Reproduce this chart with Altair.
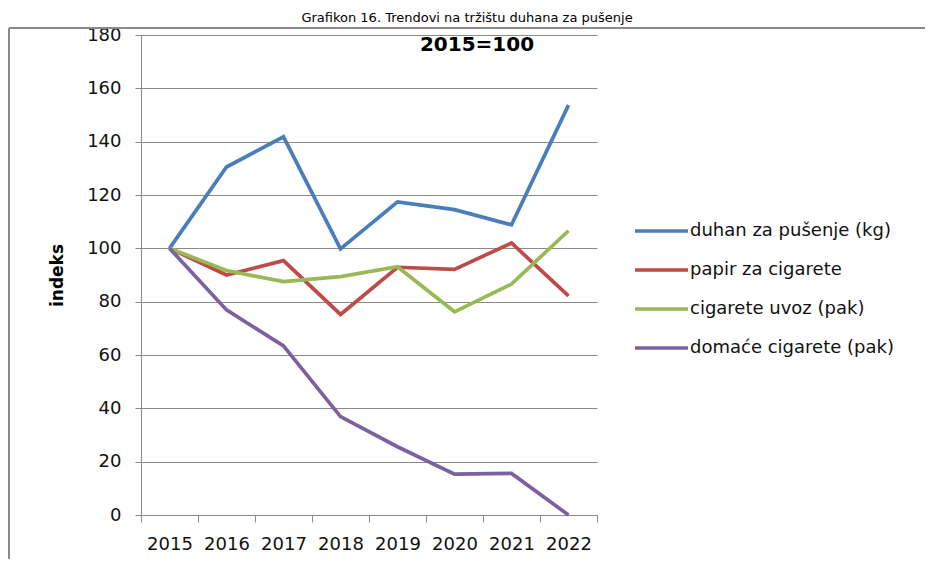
import altair as alt
import pandas as pd

years = ["2015", "2016", "2017", "2018", "2019", "2020", "2021", "2022"]
series_names = [
    "duhan za pušenje (kg)",
    "papir za cigarete",
    "cigarete uvoz (pak)",
    "domaće cigarete (pak)",
]
duhan = [100, 130.5, 141.8, 99.8, 117.4, 114.5, 108.8, 153.7]
papir = [100, 90.0, 95.4, 75.2, 92.9, 92.1, 102.0, 82.2]
uvoz = [100, 91.7, 87.5, 89.4, 93.1, 76.2, 86.6, 106.6]
domace = [100, 76.9, 63.4, 36.9, 25.6, 15.3, 15.6, 0]
colors = ["#4A7EBB", "#BE4B48", "#98B954", "#7D60A0"]
y_ticks = [0, 20, 40, 60, 80, 100, 120, 140, 160, 180]
title_text = "Grafikon 16. Trendovi na tržištu duhana za pušenje"
note_text = "2015=100"
y_title = "indeks"

rows = []
for name, vals in zip(series_names, [duhan, papir, uvoz, domace]):
    for yr, v in zip(years, vals):
        rows.append({"year": yr, "series": name, "value": v})
df = pd.DataFrame(rows)
df_leg = pd.DataFrame({"series": series_names})

W, H = 456, 480
PL, PT = 133, 27
PR, PB = 917 - PL - W, 551 - PT - H

font = "DejaVu Sans"
grey = "#8a8a8a"
color_scale = alt.Scale(domain=series_names, range=colors)

lines = alt.Chart(df).mark_line(strokeWidth=3.7).encode(
    x=alt.X(
        "year:O",
        sort=years,
        bandPosition=0.5,
        scale=alt.Scale(type="band", paddingInner=0, paddingOuter=0),
        axis=alt.Axis(
            title=None,
            labelAngle=0,
            tickBand="extent",
            tickSize=7,
            tickColor=grey,
            domainColor=grey,
            labelPadding=13,
            grid=False,
        ),
    ),
    y=alt.Y(
        "value:Q",
        scale=alt.Scale(domain=[0, 180], nice=False),
        axis=alt.Axis(
            values=y_ticks,
            title=y_title,
            titleFont=font,
            titleFontWeight="bold",
            titleFontSize=17,
            titleColor="#000000",
            titlePadding=20,
            tickSize=6,
            tickColor=grey,
            domainColor=grey,
            labelPadding=14,
            grid=True,
            gridColor=grey,
            gridWidth=1,
        ),
    ),
    color=alt.Color("series:N", scale=color_scale, legend=None),
    detail="series:N",
)

note = alt.Chart(pd.DataFrame({"t": [note_text]})).mark_text(
    font=font, fontSize=20, fontWeight="bold", color="#000000", align="center", baseline="middle"
).encode(text="t:N", x=alt.value(336), y=alt.value(10))

title = alt.Chart(pd.DataFrame({"t": [title_text]})).mark_text(
    font=font, fontSize=13, color="#000000", align="center", baseline="alphabetic"
).encode(text="t:N", x=alt.value(326), y=alt.value(-13))

border_left = alt.Chart(pd.DataFrame({"a": [0]})).mark_rule(color=grey, strokeWidth=2).encode(
    x=alt.value(-PL + 1), y=alt.value(-7), y2=alt.value(H + PB + 5)
)
border_top = alt.Chart(pd.DataFrame({"a": [0]})).mark_rule(color=grey, strokeWidth=2).encode(
    x=alt.value(-PL + 1), x2=alt.value(W + PR + 5), y=alt.value(-7)
)

leg_y = alt.Y(
    "series:N",
    sort=series_names,
    scale=alt.Scale(type="point", range=[196, 313], padding=0),
    axis=None,
)
leg_rule = alt.Chart(df_leg).mark_rule(strokeWidth=3.7).encode(
    y=leg_y,
    x=alt.value(494),
    x2=alt.value(547),
    color=alt.Color("series:N", scale=color_scale, legend=None),
)
leg_text = alt.Chart(df_leg).mark_text(
    font=font, fontSize=18, color="#111111", align="left", baseline="middle"
).encode(y=leg_y, x=alt.value(549), text="series:N")

chart = (
    alt.layer(lines, note, title, border_left, border_top, leg_rule, leg_text)
    .resolve_scale(y="independent")
    .properties(
        width=W,
        height=H,
        autosize=alt.AutoSizeParams(type="none"),
        padding={"left": PL, "top": PT, "right": PR, "bottom": PB},
        background="white",
    )
    .configure_view(stroke=None)
    .configure_axis(
        labelFont=font,
        labelFontSize=18,
        labelColor="#111111",
    )
)

chart.save("out.html", embed_options={"renderer": "svg", "actions": False})
